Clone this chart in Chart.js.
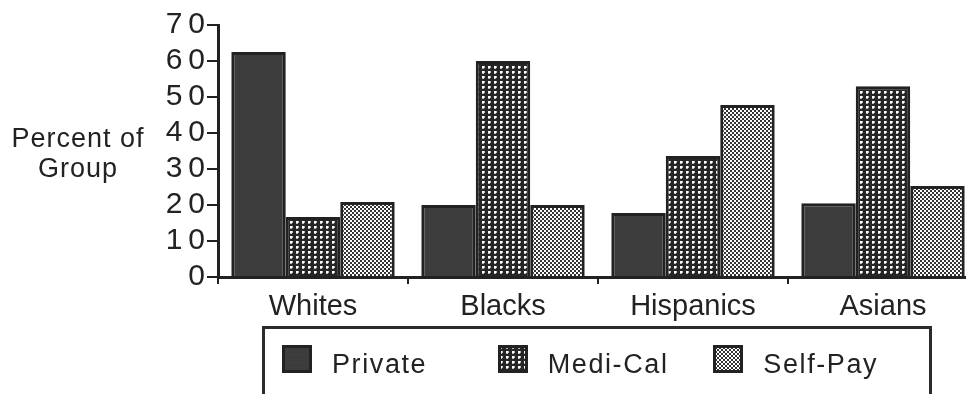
<!DOCTYPE html>
<html>
<head>
<meta charset="utf-8">
<script src="https://cdn.jsdelivr.net/npm/chart.js@4.4.1/dist/chart.umd.min.js"></script>
<style>
  html, body { margin: 0; padding: 0; background: #fff; overflow: hidden; width: 966px; height: 394px; }
  #wrap { position: relative; width: 966px; height: 394px; overflow: hidden; }
  #chart { position: absolute; left: 0; top: 0; }
  .txt { font-family: 'Liberation Sans', Arial, sans-serif; color: #222; }
  #ytitle { position: absolute; left: 0; top: 123px; width: 156px; text-align: center; font-size: 27px; line-height: 30px; letter-spacing: 1px; }
  #legend { position: absolute; left: 262px; top: 326px; width: 670px; height: 110px; box-sizing: border-box;
            border: 3px solid #2b2b2b; padding: 16px 0 0 17px; display: flex; }
  .item { width: 217px; display: flex; align-items: flex-start; }
  .item canvas { margin-right: 20px; }
  .item span { font-size: 27px; line-height: 30px; letter-spacing: 1.6px; margin-top: 4px; }
</style>
</head>
<body>
<div id="wrap">
  <canvas id="chart" width="990" height="394" style="width:990px;height:394px"></canvas>
  <div id="ytitle" class="txt">Percent of<br>Group</div>
  <div id="legend" class="txt"></div>
</div>
<script>
// data
var groups = ['Whites', 'Blacks', 'Hispanics', 'Asians'];
var seriesNames = ['Private', 'Medi-Cal', 'Self-Pay'];
var privateVals = [62.5, 20, 17.8, 20.5];
var mediCalVals = [16.7, 60, 33.6, 53];
var selfPayVals = [20.8, 20, 47.8, 25.3];
var yTickLabels = ['0', '1\u20090', '2\u20090', '3\u20090', '4\u20090', '5\u20090', '6\u20090', '7\u20090'];

var ink = '#222';
var fontFam = "'Liberation Sans', Arial, sans-serif";

// fill patterns like the old dithered print
function makePattern(kind) {
  var t = document.createElement('canvas');
  var c = t.getContext('2d');
  if (kind == 'solid') {
    t.width = 4; t.height = 4;
    c.fillStyle = '#3c3c3c';
    c.fillRect(0, 0, 4, 4);
    c.fillStyle = '#454545';
    c.fillRect(1, 2, 1, 1);
  } else if (kind == 'dots') {
    t.width = 6; t.height = 5;
    c.fillStyle = '#262626';
    c.fillRect(0, 0, 6, 5);
    c.fillStyle = '#fff';
    c.fillRect(2, 1, 2, 2);
    c.fillStyle = '#bbb';
    c.fillRect(4, 1, 1, 2);
    c.fillRect(2, 3, 2, 1);
  } else {
    t.width = 4; t.height = 4;
    c.fillStyle = '#fff';
    c.fillRect(0, 0, 4, 4);
    c.fillStyle = '#333';
    c.fillRect(0, 0, 2, 2);
    c.fillRect(2, 2, 2, 2);
  }
  return c.createPattern(t, 'repeat');
}

var fills = [makePattern('solid'), makePattern('dots'), makePattern('check')];
var seriesVals = [privateVals, mediCalVals, selfPayVals];

var datasets = seriesNames.map(function (name, i) {
  return {
    label: name,
    data: seriesVals[i],
    backgroundColor: fills[i],
    borderColor: ink,
    borderWidth: 3,
    categoryPercentage: 0.86,
    barPercentage: 1.0
  };
});

var ctx = document.getElementById('chart').getContext('2d');
new Chart(ctx, {
  type: 'bar',
  data: { labels: groups, datasets: datasets },
  options: {
    responsive: false,
    animation: false,
    devicePixelRatio: 1,
    layout: { padding: { left: 0, right: 12, top: 25, bottom: 67 } },
    plugins: { legend: { display: false }, tooltip: { enabled: false } },
    scales: {
      x: {
        grid: { drawOnChartArea: false, tickLength: 7, color: ink, lineWidth: 2 },
        border: { color: ink, width: 3 },
        ticks: { font: { family: fontFam, size: 29 }, color: ink, padding: 6 },
        afterFit: function (s) { s.height = 50; }
      },
      y: {
        min: 0,
        max: 70,
        grid: { drawOnChartArea: false, tickLength: 11, color: ink, lineWidth: 2 },
        border: { color: ink, width: 3 },
        ticks: {
          stepSize: 10,
          autoSkip: false,
          font: { family: fontFam, size: 30 },
          color: ink,
          padding: 2,
          callback: function (v) { return yTickLabels[Math.round(v / 10)]; }
        },
        afterFit: function (s) { s.width = 218; }
      }
    }
  }
});

// legend, boxed, below the axis
var leg = document.getElementById('legend');
seriesNames.forEach(function (name, i) {
  var item = document.createElement('div');
  item.className = 'item';
  var sw = document.createElement('canvas');
  sw.width = 30; sw.height = 28;
  var sc = sw.getContext('2d');
  sc.fillStyle = fills[i];
  sc.fillRect(0, 0, 30, 28);
  sc.strokeStyle = ink;
  sc.lineWidth = 3;
  sc.strokeRect(1.5, 1.5, 27, 25);
  var sp = document.createElement('span');
  sp.textContent = name;
  item.appendChild(sw);
  item.appendChild(sp);
  leg.appendChild(item);
});
</script>
</body>
</html>
